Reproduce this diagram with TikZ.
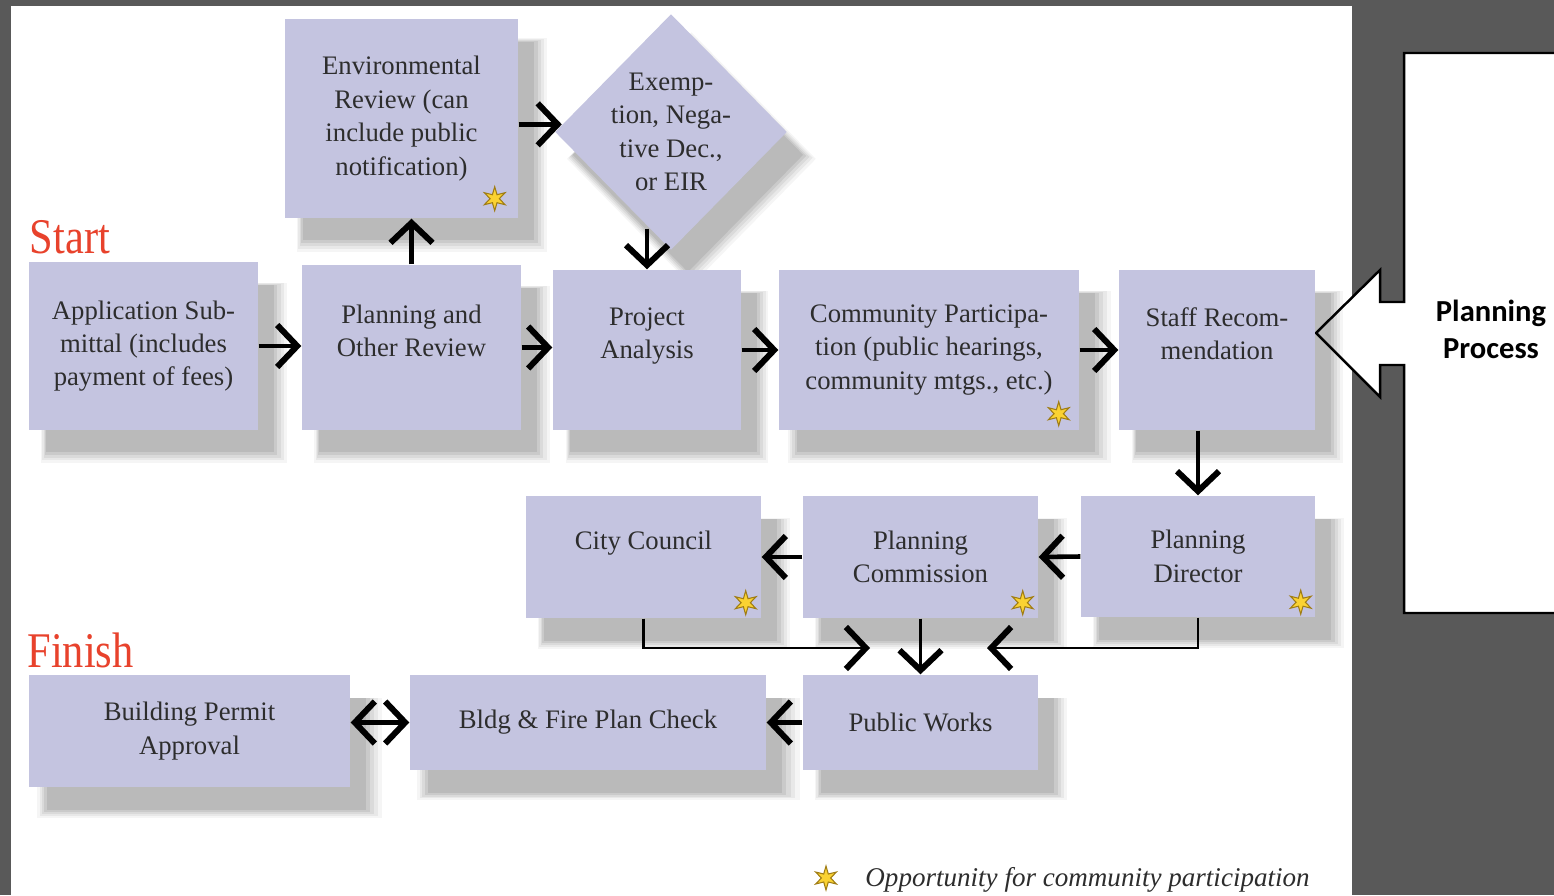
\documentclass[tikz,border=0pt]{standalone}
\usepackage{fontspec}
\setmainfont{Liberation Serif}
\newfontfamily\bigfont[FakeStretch=0.85]{Liberation Serif}
\newfontfamily\calfont{Carlito}
\usetikzlibrary{shapes.geometric,arrows.meta,shadows}

\definecolor{boxfill}{RGB}{196,196,224}
\definecolor{panelgrey}{RGB}{89,89,89}
\definecolor{txtgrey}{RGB}{45,45,45}
\definecolor{startred}{RGB}{232,66,44}
\definecolor{starfill}{RGB}{250,210,50}
\definecolor{staredge}{RGB}{160,125,20}

\begin{document}
\begin{tikzpicture}[
    soft shade/.style={
        general shadow={fill=black, opacity=0.04, shadow xshift=0.19cm, shadow yshift=-0.25cm, shadow scale=1.075},
        general shadow={fill=black, opacity=0.05, shadow xshift=0.185cm, shadow yshift=-0.245cm, shadow scale=1.055},
        general shadow={fill=black, opacity=0.06, shadow xshift=0.18cm, shadow yshift=-0.24cm, shadow scale=1.035},
        general shadow={fill=black, opacity=0.07, shadow xshift=0.175cm, shadow yshift=-0.235cm, shadow scale=1.015},
        general shadow={fill=black, opacity=0.08, shadow xshift=0.17cm, shadow yshift=-0.23cm, shadow scale=0.995}},
    box/.style={shape=rectangle, fill=boxfill, text=txtgrey, align=center, inner sep=0pt,
        font=\fontsize{7.6}{9.5}\selectfont, soft shade},
    partstar/.style={shape=star, star points=6, star point ratio=2.6, minimum size=0.24cm, inner sep=0pt,
        fill=starfill, draw=staredge, line width=0.3pt},
    arr/.style={-{Straight Barb[length=2mm, width=4.2mm, line width=1.7pt]}, line width=1.3pt, black},
    arrboth/.style={{Straight Barb[length=2mm, width=4.2mm, line width=1.7pt]}-{Straight Barb[length=2mm, width=4.2mm, line width=1.7pt]}, line width=1.3pt, black},
    redlabel/.style={text=startred, font=\bigfont\fontsize{14.2}{16}\selectfont}
]
    \useasboundingbox (0,0) rectangle (15.54,-8.95);
    % background and page
    \fill[panelgrey] (0,0) rectangle (15.54,-8.95);
    \fill[white] (0.11,-0.06) rectangle (13.52,-8.95);

    % side callout
    \draw[fill=white, line width=0.7pt] (15.7,-0.53) -- (14.04,-0.53) -- (14.04,-3.02) -- (13.80,-3.02)
        -- (13.80,-2.70) -- (13.16,-3.33) -- (13.80,-3.97) -- (13.80,-3.65) -- (14.04,-3.65)
        -- (14.04,-6.13) -- (15.7,-6.13);
    \node[font=\calfont\bfseries\fontsize{8.7}{10.5}\selectfont, align=center] at (14.91,-3.29) (proc) {Planning\\Process};

    \node[redlabel] at (0.70,-2.37) (start) {Start};
    \node[redlabel] at (0.805,-6.50) (finish) {Finish};

    % first row
    \node[box, minimum width=2.29cm, minimum height=1.68cm] at (1.435,-3.46) (app) {Application Sub-\\mittal (includes\\payment of fees)};
    \node[box, minimum width=2.19cm, minimum height=1.65cm] at (4.115,-3.475) (plan) {Planning and\\Other Review\\~};
    \node[box, minimum width=2.33cm, minimum height=1.99cm] at (4.015,-1.185) (env) {Environmental\\Review (can\\include public\\notification)};
    \node[shape=diamond, fill=boxfill, inner sep=0pt, minimum width=2.32cm, minimum height=2.36cm, soft shade,
        label={[text=txtgrey, align=center, font=\fontsize{7.6}{9.5}\selectfont]center:Exemp-\\tion, Nega-\\tive Dec.,\\or EIR}]
        at (6.71,-1.32) (dec) {};
    \node[box, minimum width=1.88cm, minimum height=1.60cm] at (6.47,-3.50) (proj) {Project\\Analysis\\~};
    \node[box, minimum width=3.00cm, minimum height=1.60cm] at (9.29,-3.50) (comm) {Community Participa-\\tion (public hearings,\\community mtgs., etc.)};
    \node[box, minimum width=1.96cm, minimum height=1.60cm] at (12.17,-3.50) (staff) {Staff Recom-\\mendation\\~};

    % second row
    \node[box, minimum width=2.35cm, minimum height=1.22cm] at (6.435,-5.57) (council) {City Council\\~};
    \node[box, minimum width=2.35cm, minimum height=1.22cm] at (9.205,-5.57) (commis) {Planning\\Commission};
    \node[box, minimum width=2.34cm, minimum height=1.21cm] at (11.98,-5.565) (director) {Planning\\Director};

    % third row
    \node[box, minimum width=3.21cm, minimum height=1.12cm] at (1.895,-7.31) (permit) {Building Permit\\Approval};
    \node[box, minimum width=3.56cm, minimum height=0.95cm] at (5.88,-7.225) (check) {Bldg \& Fire Plan Check};
    \node[box, minimum width=2.35cm, minimum height=0.95cm] at (9.205,-7.225) (works) {Public Works};

    % participation marks
    \node[partstar] at ([shift={(-0.24,0.20)}]env.south east) (s1) {};
    \node[partstar] at ([shift={(-0.21,0.17)}]comm.south east) (s2) {};
    \node[partstar] at ([shift={(-0.16,0.16)}]council.south east) (s3) {};
    \node[partstar] at ([shift={(-0.16,0.16)}]commis.south east) (s4) {};
    \node[partstar] at ([shift={(-0.15,0.155)}]director.south east) (s5) {};

    \coordinate (jl) at (8.70,-6.48);
    \coordinate (jr) at (9.87,-6.48);

    \path [arr] (app.east) edge (app.east -| plan.west);
    \path [arr] (plan.east) edge (plan.east -| proj.west);
    \path [arr] (proj.east) edge (comm.west);
    \path [arr] (comm.east) edge (staff.west);
    \path [arr] (plan.north) edge (plan.north |- env.south);
    \path [arr] (env.east |- dec.176) edge (dec.176);
    \draw [arr] (dec.south -| proj.north) ++(0,0.22) -- (proj.north);
    \path [arr] (staff.south -| director.north) edge (director.north);
    \path [arr] (director.west) edge (commis.east);
    \path [arr] (commis.west) edge (council.east);
    \draw [arr, line width=0.8pt] (council.south) |- (jl);
    \draw [arr, line width=0.8pt] (director.south) |- (jr);
    \path [arr, line width=0.8pt] (commis.south) edge (works.north);
    \path [arr] (works.west) edge (check.east);
    \path [arrboth] (check.west -| permit.east) edge (check.west);

    % legend
    \node[partstar] at (8.26,-8.78) (ls) {};
    \node[anchor=west, text=txtgrey, font=\itshape\fontsize{7.7}{9}\selectfont] at (8.53,-8.80) (legend) {Opportunity for community participation};
\end{tikzpicture}
\end{document}
